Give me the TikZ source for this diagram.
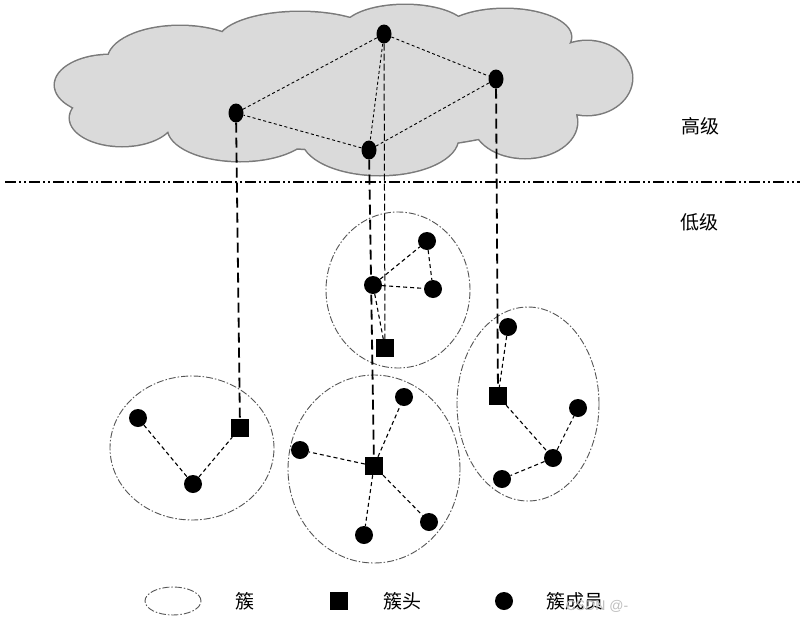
\documentclass[tikz,border=0pt]{standalone}
\usepackage{fontspec}
\usetikzlibrary{shapes.geometric}
\newfontfamily\cjk{Noto Sans CJK SC}
\newfontfamily\wmfont{Liberation Sans}
\definecolor{cloudfill}{HTML}{DADADA}
\definecolor{cloudline}{HTML}{7A7A7A}
\definecolor{ringline}{HTML}{555555}
\begin{document}
\begin{tikzpicture}[x=1pt,y=-1pt,
  mem/.style={circle,fill=black,inner sep=0pt,minimum size=18pt},
  topmem/.style={ellipse,fill=black,inner sep=0pt,minimum width=15pt,minimum height=19pt},
  head/.style={rectangle,fill=black,inner sep=0pt,minimum size=18pt},
  ring/.style={draw=ringline,line width=0.9pt,dash pattern=on 7pt off 2pt on 1.5pt off 2pt},
  link/.style={line width=1.1pt,dash pattern=on 4pt off 3pt},
  toplink/.style={line width=0.9pt,dash pattern=on 3pt off 2.5pt},
  vlink/.style={line width=1.8pt,dash pattern=on 10pt off 5pt},
  thinv/.style={line width=1pt,dash pattern=on 7pt off 3pt},
  sep/.style={line width=1.6pt,dash pattern=on 11pt off 3pt on 2pt off 3pt on 2pt off 3pt},
  lab/.style={font=\cjk\fontsize{19}{21}\selectfont,inner sep=0pt}
]
\useasboundingbox (0,0) rectangle (804,627);
\fill[white] (0,0) rectangle (804,627);

% cloud: outline then fill
\def\cloudshape{
  (110,85) ellipse [x radius=55pt,y radius=30pt]
  (122,118) ellipse [x radius=52pt,y radius=28pt]
  (180,60) ellipse [x radius=72pt,y radius=34pt]
  (300,42) ellipse [x radius=82pt,y radius=30pt]
  (405,30) ellipse [x radius=62pt,y radius=25pt]
  (505,37) ellipse [x radius=66pt,y radius=28pt]
  (587,78) ellipse [x radius=45pt,y radius=37pt]
  (545,75) ellipse [x radius=30pt,y radius=25pt]
  (525,122) ellipse [x radius=52pt,y radius=36pt]
  (380,138) ellipse [x radius=78pt,y radius=37pt]
  (240,128) ellipse [x radius=72pt,y radius=33pt]
  (350,90) ellipse [x radius=220pt,y radius=60pt]
}
\draw[cloudline,line width=3pt] \cloudshape;
\fill[cloudfill] \cloudshape;

% separator
\coordinate (s1) at (5,182);
\coordinate (s2) at (800,182);
\draw[sep] (s1) -- (s2);

% high-level nodes
\node[topmem] (A) at (236,113) {};
\node[topmem] (B) at (384,34) {};
\node[topmem] (C) at (496,79) {};
\node[topmem] (D) at (369,150) {};
\draw[toplink] (A) -- (B) (B) -- (C) (C) -- (D) (D) -- (A) (B) -- (D);

% cluster rings
\draw[ring] (398,290) ellipse [x radius=72pt,y radius=78pt];
\draw[ring] (192,448) ellipse [x radius=82pt,y radius=72pt];
\draw[ring] (374,469) ellipse [x radius=86pt,y radius=94pt];
\draw[ring] (528,404) ellipse [x radius=71pt,y radius=97pt];

% upper cluster
\node[head] (h1) at (385,348) {};
\node[mem] (u1) at (373,285) {};
\node[mem] (u2) at (427,241) {};
\node[mem] (u3) at (433,289) {};
\draw[link] (u1) -- (u2) (u2) -- (u3) (u1) -- (u3) (u1) -- (h1);

% left cluster
\node[head] (h2) at (240,428) {};
\node[mem] (l1) at (138,418) {};
\node[mem] (l2) at (193,484) {};
\draw[link] (l1) -- (l2) (l2) -- (h2);

% middle cluster
\node[head] (h3) at (374,466) {};
\node[mem] (m1) at (404,397) {};
\node[mem] (m2) at (300,450) {};
\node[mem] (m3) at (364,535) {};
\node[mem] (m4) at (429,522) {};
\draw[link] (h3) -- (m1) (h3) -- (m2) (h3) -- (m3) (h3) -- (m4);

% right cluster
\node[head] (h4) at (498,396) {};
\node[mem] (r1) at (508,327) {};
\node[mem] (r2) at (578,408) {};
\node[mem] (r3) at (553,458) {};
\node[mem] (r4) at (502,479) {};
\draw[link] (r1) -- (h4) (h4) -- (r3) (r3) -- (r2) (r3) -- (r4);

% vertical links
\draw[vlink] (A) -- (h2);
\draw[vlink] (D) -- (h3);
\draw[vlink] (C) -- (h4);
\draw[thinv] (B) -- (h1);

% level labels
\node[lab] (hi) at (700,126) {高级};
\node[lab] (lo) at (699,222) {低级};

% legend
\draw[ring] (173,601) ellipse [x radius=28pt,y radius=14pt];
\node[lab] (t1) at (245,601) {簇};
\node[head] (lh) at (339,601) {};
\node[lab] (t2) at (402,601) {簇头};
\node[mem] (lm) at (504,601) {};
\node[lab] (t3) at (575,601) {簇成员};
\node[font=\wmfont\fontsize{14}{16}\selectfont,text=black!25,inner sep=0pt] (wm) at (597,606) {CSDN @-};
\end{tikzpicture}
\end{document}
